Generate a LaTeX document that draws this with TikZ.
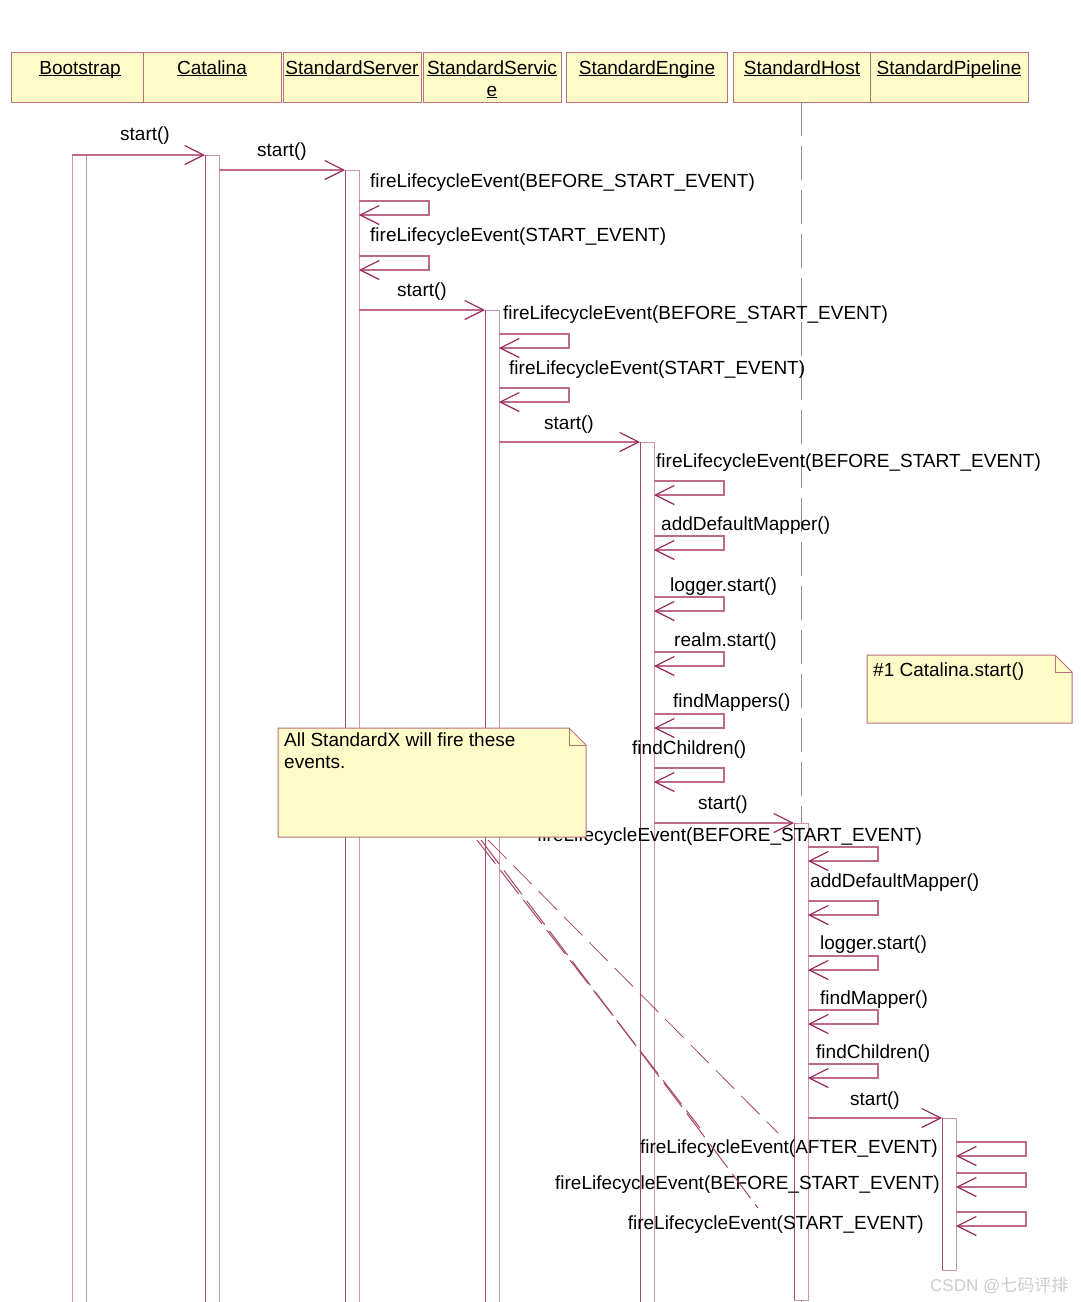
\documentclass[tikz,border=0pt]{standalone}
\usepackage{fontspec}
\setmainfont{Liberation Sans}
\newfontfamily\cjk{Noto Sans CJK SC}
\usetikzlibrary{arrows.meta}
\definecolor{boxfill}{HTML}{FFFBC9}
\definecolor{boxline}{HTML}{B8707A}
\definecolor{barline}{HTML}{D095AA}
\definecolor{barleft}{HTML}{A34A72}
\definecolor{msgline}{HTML}{C06A8A}
\definecolor{headc}{HTML}{962656}
\definecolor{lifegrey}{HTML}{8C8C8C}
\definecolor{notedash}{HTML}{A8466A}
\newcommand\myul[1]{\setbox0\hbox{#1}\rlap{\rule[-2.4pt]{\wd0}{1.1pt}}\box0}
\newcommand\selfcall[3]{%
  \coordinate (#1a) at (#2,#3); \coordinate (#1b) at (#2,#3+14);
  \draw[msg] (#1a) -- ++(70,0) |- (#1b);}
\newcommand\notebox[6]{% name, x1, y1, x2, y2, fold
  \coordinate (#1nw) at (#2,#3); \coordinate (#1se) at (#4,#5);
  \draw[boxline, fill=boxfill, line width=1pt] (#2,#3) -- (#4-#6,#3) -- (#4,#3+#6) -- (#4,#5) -- (#2,#5) -- cycle;
  \draw[boxline, line width=1pt] (#4-#6,#3) -- (#4-#6,#3+#6) -- (#4,#3+#6);}
\begin{document}
\begin{tikzpicture}[x=1pt,y=-1pt,
  font=\fontsize{19}{22}\selectfont,
  txt/.style={inner sep=0pt, anchor=base west},
  txtc/.style={inner sep=0pt, anchor=base},
  txte/.style={inner sep=0pt, anchor=base east},
  head/.style={draw=boxline, fill=boxfill, line width=1pt},
  msg/.style={draw=msgline, line width=1.1pt,
    -{Straight Barb[length=19pt,width=19pt,color=headc,line width=1.2pt]}},
  lifeline/.style={draw=lifegrey, line width=1pt, dash pattern=on 34pt off 10pt},
  notelink/.style={draw=notedash, line width=0.8pt}]
\useasboundingbox (0,0) rectangle (1080,1302);
\fill[white] (0,0) rectangle (1080,1302);

% ---------- header boxes ----------
\draw[head] (11,52) rectangle (143,102);
\draw[head] (143,52) rectangle (281,102);
\draw[head] (283,52) rectangle (421,102);
\draw[head] (423,52) rectangle (561,102);
\draw[head] (566,52) rectangle (727,102);
\draw[head] (733,52) rectangle (870,102);
\draw[head] (870,52) rectangle (1028,102);
\node[txtc] (hBoot) at (80,74) {\myul{Bootstrap}};
\node[txtc] (hCat) at (212,74) {\myul{Catalina}};
\node[txtc] (hSrv) at (352,74) {\myul{StandardServer}};
\node[txtc] (hSvc) at (492,74) {\myul{StandardServic}};
\node[txtc] (hSvc2) at (492,96) {\myul{e}};
\node[txtc] (hEng) at (647,74) {\myul{StandardEngine}};
\node[txtc] (hHost) at (802,74) {\myul{StandardHost}};
\node[txtc] (hPipe) at (949,74) {\myul{StandardPipeline}};

% ---------- host lifeline ----------
\coordinate (hostTop) at (801,102);
\coordinate (hostAct) at (801,823);
\draw[lifeline] (hostTop) -- (hostAct);
\draw[lifegrey, line width=1pt] (801,1300) -- (801,1302);

% ---------- activation bars ----------
\draw[barline, line width=1pt] (86,155) -- (86,1302);
\draw[barline, line width=1pt] (72,155) -- (72,1302);
\draw[barline, line width=1pt] (205,155) -- (219,155) -- (219,1302);
\draw[barleft, line width=1pt] (205,155) -- (205,1302);
\draw[barline, line width=1pt] (345,170) -- (359,170) -- (359,1302);
\draw[barleft, line width=1pt] (345,170) -- (345,1302);
\draw[barline, line width=1pt] (485,310) -- (499,310) -- (499,1302);
\draw[barleft, line width=1pt] (485,310) -- (485,1302);
\draw[barline, line width=1pt] (640,442) -- (654,442) -- (654,1302);
\draw[barleft, line width=1pt] (640,442) -- (640,1302);
\draw[barline, line width=1pt] (794,823) rectangle (808,1300);
\draw[barleft, line width=1pt] (794,823) -- (794,1300);
\draw[barline, line width=1pt] (942,1118) rectangle (956,1270);
\draw[barleft, line width=1pt] (942,1118) -- (942,1270);

% ---------- messages ----------
\coordinate (bootOut) at (72,155);  \coordinate (catIn) at (205,155);
\draw[msg] (bootOut) -- (catIn);
\node[txtc] (m1) at (145,140) {start()};

\coordinate (catOut) at (219,170);  \coordinate (srvIn) at (345,170);
\draw[msg] (catOut) -- (srvIn);
\node[txtc] (m2) at (282,156) {start()};

\node[txt] (s1) at (370,187) {fireLifecycleEvent(BEFORE\_START\_EVENT)};
\selfcall{sa}{359}{201}
\node[txt] (s2) at (370,241) {fireLifecycleEvent(START\_EVENT)};
\selfcall{sb}{359}{256}

\coordinate (srvOut) at (359,310);  \coordinate (svcIn) at (485,310);
\draw[msg] (srvOut) -- (svcIn);
\node[txtc] (m3) at (422,296) {start()};

\node[txt] (v1) at (503,319) {fireLifecycleEvent(BEFORE\_START\_EVENT)};
\selfcall{va}{499}{334}
\node[txt] (v2) at (509,374) {fireLifecycleEvent(START\_EVENT)};
\selfcall{vb}{499}{388}

\coordinate (svcOut) at (499,442);  \coordinate (engIn) at (640,442);
\draw[msg] (svcOut) -- (engIn);
\node[txtc] (m4) at (569,429) {start()};

\node[txt] (e1) at (656,467) {fireLifecycleEvent(BEFORE\_START\_EVENT)};
\selfcall{ea}{654}{481}
\node[txt] (e2) at (661,530) {addDefaultMapper()};
\selfcall{eb}{654}{536}
\node[txt] (e3) at (670,591) {logger.start()};
\selfcall{ec}{654}{597}
\node[txt] (e4) at (674,646) {realm.start()};
\selfcall{ed}{654}{652}
\node[txt] (e5) at (673,707) {findMappers()};
\selfcall{ee}{654}{714}
\node[txt] (e6) at (632,754) {findChildren()};
\selfcall{ef}{654}{768}

\coordinate (engOut) at (654,823);  \coordinate (hostIn) at (794,823);
\draw[msg] (engOut) -- (hostIn);
\node[txtc] (m5) at (723,809) {start()};

\node[txt] (h1) at (537,841) {fireLifecycleEvent(BEFORE\_START\_EVENT)};
\selfcall{ha}{808}{847}
\node[txt] (h2) at (810,887) {addDefaultMapper()};
\selfcall{hb}{808}{901}
\node[txt] (h3) at (820,949) {logger.start()};
\selfcall{hc}{808}{956}
\node[txt] (h4) at (820,1004) {findMapper()};
\selfcall{hd}{808}{1010}
\node[txt] (h5) at (816,1058) {findChildren()};
\selfcall{he}{808}{1064}

\coordinate (hostOut) at (808,1118);  \coordinate (pipeIn) at (942,1118);
\draw[msg] (hostOut) -- (pipeIn);
\node[txtc] (m6) at (875,1105) {start()};

\node[txte] (p1) at (938,1153) {fireLifecycleEvent(AFTER\_EVENT)};
\selfcall{pa}{956}{1142}
\node[txte] (p2) at (940,1189) {fireLifecycleEvent(BEFORE\_START\_EVENT)};
\selfcall{pb}{956}{1173}
\node[txte] (p3) at (924,1229) {fireLifecycleEvent(START\_EVENT)};
\selfcall{pc}{956}{1212}

% ---------- notes ----------
\notebox{nA}{867}{655}{1072}{723}{17}
\node[txt] (noteA) at (873,676) {\#1 Catalina.start()};

\notebox{nB}{278}{728}{586}{837}{17}
\node[txt, align=left, anchor=north west] (noteB) at (284,733) {All StandardX will fire these\\events.};

% note links
\coordinate (nl1) at (488,840); \coordinate (nl1e) at (778,1133);
\coordinate (nl2) at (477,840); \coordinate (nl2e) at (700,1128);
\coordinate (nl3) at (481,840); \coordinate (nl3e) at (758,1208);
\draw[notelink, dash pattern=on 26pt off 10pt] (nl1) -- (nl1e);
\draw[notelink, line width=1pt, dash pattern=on 30pt off 8pt] (nl2) -- (nl2e);
\draw[notelink, line width=1pt, dash pattern=on 30pt off 8pt] (nl3) -- (nl3e);

% watermark
\node[txt, text=black!20, font=\fontsize{17}{19}\selectfont] (wm) at (930,1291) {CSDN @\cjk 七码评排};
\end{tikzpicture}
\end{document}
